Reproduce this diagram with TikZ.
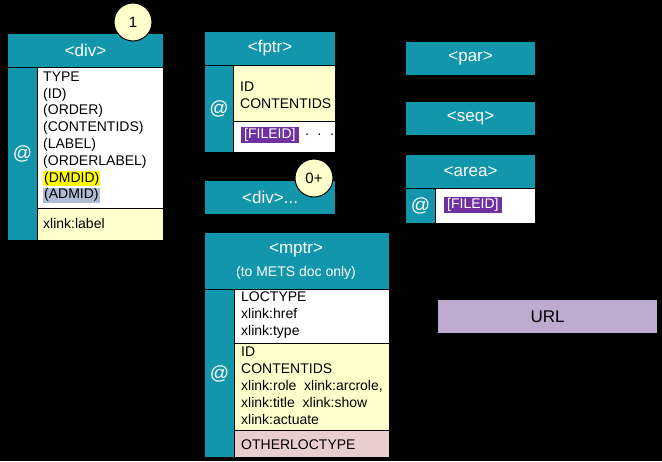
\documentclass[tikz,border=0pt]{standalone}
\usepackage{fontspec}
\setmainfont{Liberation Sans}
\definecolor{tealc}{RGB}{18,150,172}
\definecolor{creamc}{RGB}{255,255,204}
\definecolor{pinkc}{RGB}{234,206,205}
\definecolor{urlc}{RGB}{190,170,206}
\definecolor{purplec}{RGB}{112,48,160}
\definecolor{hlyellow}{RGB}{255,255,0}
\definecolor{hlgray}{RGB}{176,188,214}
\newcommand\hdfont{\fontsize{17}{20}\selectfont}
\newcommand\atfont{\fontsize{14}{16.8}\selectfont}
\newcommand\bigatfont{\fontsize{19}{22}\selectfont}
\newcommand\hlbox[2]{{\setlength{\fboxsep}{1pt}\colorbox{#1}{#2}}}
\newcommand\fileid{{\setlength{\fboxsep}{0pt}\colorbox{purplec}{\strut\hspace{3pt}\textcolor{white}{[FILEID]}\hspace{3pt}}}}
\newcommand\rbox[7]{\node[box,#2,minimum width={#5-#3},minimum height={#6-#4}] (#1) at (#3,#4) {#7};}
\begin{document}
\begin{tikzpicture}[x=1pt,y=-1pt,
  box/.style={draw=black,line width=1.2pt,inner sep=0pt,anchor=north west},
  tealbox/.style={fill=tealc,text=white,font=\hdfont},
  atcol/.style={fill=tealc,text=white,font=\bigatfont},
  creambox/.style={fill=creamc},
  whitebox/.style={fill=white},
  pinkbox/.style={fill=pinkc},
  urlbox/.style={fill=urlc,text=black,font=\hdfont},
  attr/.style={anchor=north west,inner sep=0pt,align=left,font=\atfont,text=black},
  circ/.style={circle,fill=creamc,draw=black,line width=1pt,minimum size=38pt,inner sep=0pt,font=\fontsize{15}{18}\selectfont,text=black}]
\fill[black] (0,0) rectangle (662,461);
\useasboundingbox (0,0) rectangle (662,461);
% div
\rbox{divh}{tealbox}{7}{33}{163}{67}{<div>}
\rbox{divat}{atcol}{7}{67}{37}{240}{@}
\rbox{divw}{whitebox}{37}{67}{163}{208}{}
\rbox{divc}{creambox}{37}{208}{163}{240}{}
\node[attr] (divattr) at (43,71.5) {TYPE\\(ID)\\(ORDER)\\(CONTENTIDS)\\(LABEL)\\(ORDERLABEL)\\\hlbox{hlyellow}{(DMDID)}\\\hlbox{hlgray}{(ADMID)}};
\node[attr] (divlab) at (43,218) {xlink:label};
\node[circ] (c1) at (133,22) {1};
% fptr
\rbox{fptrh}{tealbox}{204}{31}{335}{65}{<fptr>}
\rbox{fptrat}{atcol}{204}{65}{233}{152}{@}
\rbox{fptrc}{creambox}{233}{65}{335}{121}{}
\rbox{fptrw}{whitebox}{233}{121}{335}{152}{}
\node[attr] (fptrattr) at (240,82) {ID\\CONTENTIDS};
\node[attr,anchor=west] (fptrfid) at (241,135) {\fileid\ \,·\ \ ·\ \ ·};
% div...
\rbox{divd}{tealbox}{204}{180}{335}{214}{<div>...}
\node[circ] (c0) at (314,178) {0+};
% mptr
\rbox{mptrh}{tealbox}{204}{232}{389}{289}{}
\node[text=white,font=\hdfont,inner sep=0pt] (mptrt) at (296,250) {<mptr>};
\node[text=white,font=\atfont,inner sep=0pt] (mptrs) at (296,273) {(to METS doc only)};
\rbox{mptrat}{atcol}{204}{289}{234}{457}{@}
\rbox{mptrw}{whitebox}{234}{289}{389}{343}{}
\rbox{mptrc}{creambox}{234}{343}{389}{430}{}
\rbox{mptrp}{pinkbox}{234}{430}{389}{457}{}
\node[attr] (mptrw1) at (241,291.5) {LOCTYPE\\xlink:href\\xlink:type};
\node[attr] (mptrc1) at (241,347) {ID\\CONTENTIDS\\xlink:role\ \ xlink:arcrole,\\xlink:title\ \ xlink:show\\xlink:actuate};
\node[attr] (mptrp1) at (241,440) {OTHERLOCTYPE};
% right column
\rbox{par}{tealbox}{405}{41}{535}{75}{<par>}
\rbox{seq}{tealbox}{405}{101}{535}{135}{<seq>}
\rbox{areah}{tealbox}{405}{154}{535}{188}{<area>}
\rbox{areaat}{atcol}{405}{188}{435}{223}{@}
\rbox{areaw}{whitebox}{435}{188}{535}{223}{}
\node[attr,anchor=west] (areafid) at (444,205) {\fileid};
% URL
\rbox{url}{urlbox}{437}{299}{657}{333}{URL}
\end{tikzpicture}
\end{document}
